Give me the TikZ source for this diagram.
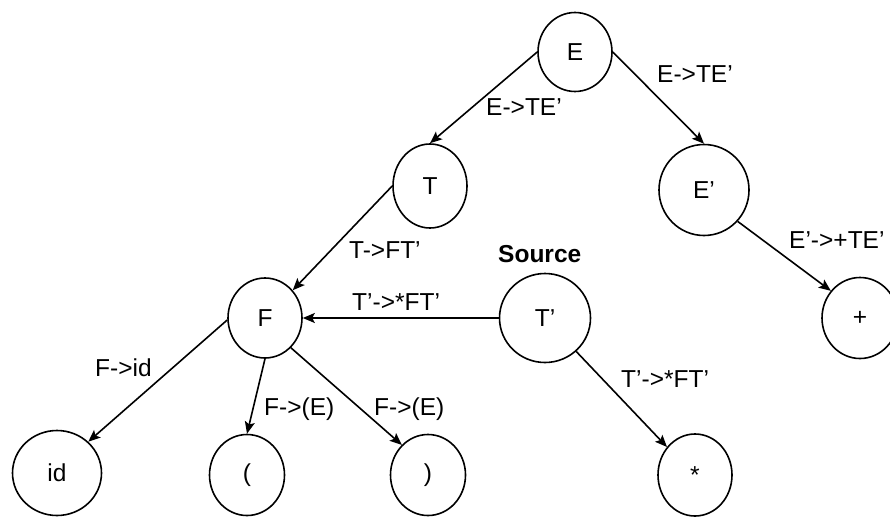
\documentclass[tikz,border=0pt]{standalone}
\usepackage{fontspec}
\setmainfont{Liberation Sans}
\usetikzlibrary{shapes.geometric,arrows.meta}
\begin{document}
\begin{tikzpicture}[x=1pt,y=-1pt,
  txt/.style={font=\fontsize{24.5}{29}\selectfont},
  state/.style={ellipse,draw,line width=1.6pt,inner sep=0pt,txt},
  edge/.style={line width=1.6pt,-{Stealth[length=12pt,width=10pt,inset=2.5pt]}},
  lbl/.style={anchor=base west,inner sep=0pt,txt}]
\useasboundingbox (0,0) rectangle (890,519);

% parse tree nodes
\node[state,minimum width=74pt,minimum height=79pt] (E)    at (575,52)  {E};
\node[state,minimum width=74pt,minimum height=84pt] (T)    at (430,186) {T};
\node[state,minimum width=90pt,minimum height=91pt] (Ep)   at (704,190) {E'};
\node[state,minimum width=76pt,minimum height=81pt] (plus) at (860,318) {+};
\node[state,minimum width=74pt,minimum height=80pt] (F)    at (265,318) {F};
\node[state,minimum width=91pt,minimum height=89pt] (Tp)   at (545,318) {T'};
\node[state,minimum width=89pt,minimum height=85pt] (id)   at (57,473)  {id};
\node[state,minimum width=75pt,minimum height=81pt] (lp)   at (247,475) {(};
\node[state,minimum width=75pt,minimum height=81pt] (rp)   at (428,475) {)};
\node[state,minimum width=74pt,minimum height=82pt] (star) at (695,475) {*};

% derivation edges
\draw[edge] (E.west)  -- (T.north);
\draw[edge] (E.east)  -- (Ep.north);
\draw[edge] (T.west)  -- (F.45);
\draw[edge] (Tp.west) -- (F.east);
\draw[edge] (Tp.-47)  -- (star.135);
\draw[edge] (Ep.-43)  -- (plus.137);
\draw[edge] (F.183)   -- (id.45);
\draw[edge] (F.south) -- (lp.north);
\draw[edge] (F.-49)   -- (rp.131);

% production labels
\node[lbl] (l1)  at (486,115) {E->TE'};
\node[lbl] (l2)  at (657,82)  {E->TE'};
\node[lbl] (l3)  at (349,258) {T->FT'};
\node[lbl,font=\fontsize{24.5}{29}\selectfont\bfseries] (src) at (498,262) {Source};
\node[lbl] (l4)  at (352,310) {T'->*FT'};
\node[lbl] (l5)  at (789,248) {E'->+TE'};
\node[lbl] (l6)  at (95,376)  {F->id};
\node[lbl] (l7)  at (264,415) {F->(E)};
\node[lbl] (l8)  at (374,415) {F->(E)};
\node[lbl] (l9)  at (621,387) {T'->*FT'};
\end{tikzpicture}
\end{document}
